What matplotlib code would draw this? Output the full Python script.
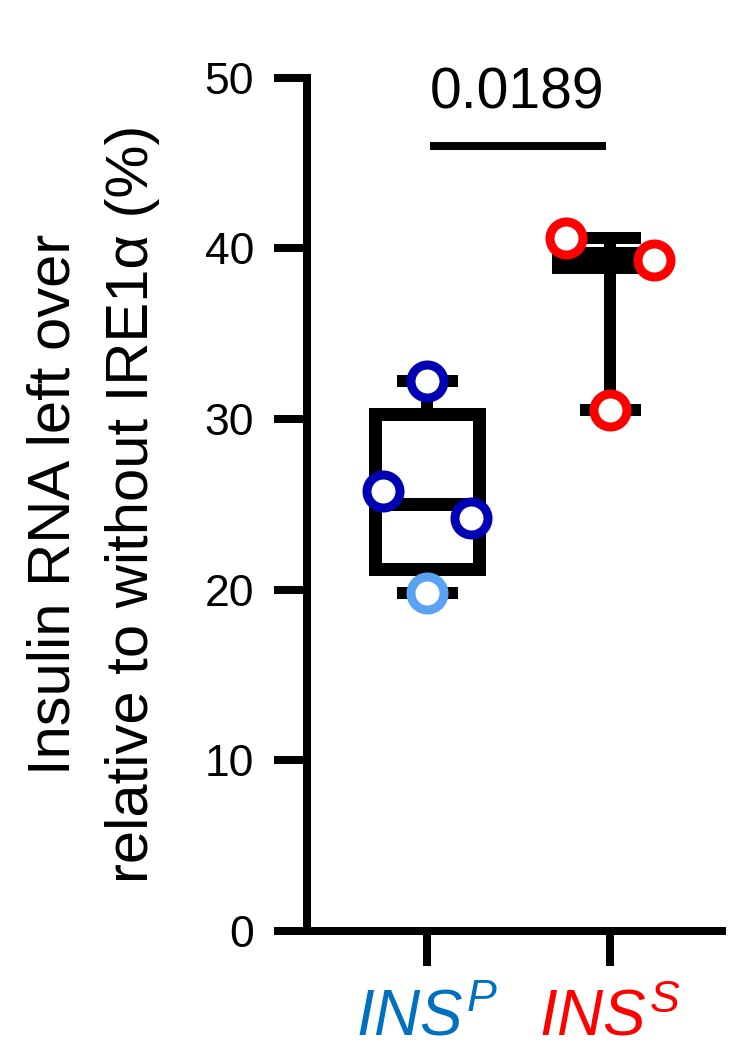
import matplotlib
matplotlib.use('Agg')
import matplotlib.pyplot as plt

# ---------------- data ----------------
groups = ['INS^P', 'INS^S']
group_labels = [r'$INS^{P}$', r'$INS^{S}$']
label_colors = ['#0070C0', '#FF0000']

insp_values = [32.2, 25.8, 24.2, 19.8]
insp_colors = ['#0000B4', '#0000B4', '#0000B4', '#5AA2F2']
inss_values = [40.6, 39.3, 30.5]
inss_colors = ['#FF0000', '#FF0000', '#FF0000']

# box summaries (whislo, q1, med, q3, whishi) as drawn
insp_box = [19.8, 21.2, 25.0, 30.3, 32.2]
inss_box = [30.5, 38.9, 39.3, 39.7, 40.6]

p_value = '0.0189'
y_ticks = [0, 10, 20, 30, 40, 50]
y_label = 'Insulin RNA left over\nrelative to without IRE1α (%)'

# ---------------- style ----------------
plt.rcParams['font.family'] = ['Liberation Sans', 'DejaVu Sans']
plt.rcParams['mathtext.fontset'] = 'custom'
plt.rcParams['mathtext.it'] = 'Liberation Sans:italic'
plt.rcParams['mathtext.rm'] = 'Liberation Sans'
plt.rcParams['mathtext.bf'] = 'Liberation Sans:bold'

DPI = 100
PX = 72.0 / DPI  # points per pixel

fig = plt.figure(figsize=(7.47, 10.5), dpi=DPI)
ax = fig.add_axes([307 / 747, 119 / 1050, 415 / 747, 853.5 / 1050])

positions = [1, 2]
jitter = [[0.0, -0.238, 0.238, 0.0], [-0.238, 0.238, 0.0]]

stats = []
for lab, b in zip(groups, [insp_box, inss_box]):
    stats.append(dict(label=lab, whislo=b[0], q1=b[1], med=b[2], q3=b[3],
                      whishi=b[4], fliers=[]))

ax.bxp(stats, positions=positions, widths=104 / 183, capwidths=61 / 183,
       showfliers=False, manage_ticks=False, patch_artist=False,
       boxprops=dict(color='black', linewidth=13 * PX,
                     solid_joinstyle='miter', solid_capstyle='projecting'),
       whiskerprops=dict(color='black', linewidth=12 * PX, solid_capstyle='butt'),
       capprops=dict(color='black', linewidth=12 * PX, solid_capstyle='butt'),
       medianprops=dict(color='black', linewidth=13 * PX, solid_capstyle='butt'))

for pos, vals, cols, jit in zip(positions, [insp_values, inss_values],
                                [insp_colors, inss_colors], jitter):
    for v, c, j in zip(vals, cols, jit):
        ax.plot([pos + j], [v], 'o', ms=33 * PX, mew=9 * PX, mfc='white',
                mec=c, zorder=5, clip_on=False)

# significance bar
ax.plot([1.016, 1.98], [46, 46], color='black', lw=8 * PX,
        solid_capstyle='butt', clip_on=False)
ax.text(1.49, 48.2, p_value, ha='center', va='baseline', fontsize=41)

ax.set_xlim(1 - 120 / 183, 2 + 112 / 183)
ax.set_ylim(0, 50)
ax.set_yticks(y_ticks)
ax.set_xticks(positions)
ax.set_xticklabels(group_labels)
for t, c in zip(ax.get_xticklabels(), label_colors):
    t.set_color(c)

for s in ['top', 'right']:
    ax.spines[s].set_visible(False)
for s in ['left', 'bottom']:
    ax.spines[s].set_linewidth(8 * PX)
    ax.spines[s].set_capstyle('projecting')

ax.tick_params(axis='y', length=33 * PX, width=8 * PX, labelsize=32,
               pad=20 * PX, direction='out')
ax.tick_params(axis='x', length=35 * PX, width=8 * PX, labelsize=46,
               pad=22 * PX, direction='out')

ax.set_ylabel(y_label, fontsize=43, linespacing=1.55)
ax.yaxis.set_label_coords((160 - 307) / 415, 0.5)

fig.savefig('out.png', dpi=DPI)
